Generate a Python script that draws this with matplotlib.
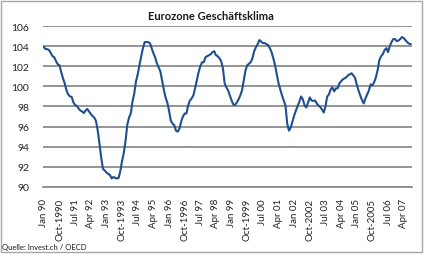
import numpy as np
import matplotlib
matplotlib.use('Agg')
import matplotlib.pyplot as plt
from matplotlib.patches import Rectangle

plt.rcParams['font.family'] = ['Lato', 'DejaVu Sans']

# monatliche Werte Jan 1990 - Aug 2007
klima = [
    103.9, 103.7, 103.7, 103.6, 103.3, 103.0, 102.9, 102.5, 102.2, 102.1, 101.4, 100.8,  # 1990
    100.3, 99.6, 99.2, 99.0, 98.95, 98.4, 98.15, 98.05, 97.8, 97.6, 97.5, 97.35,  # 1991
    97.6, 97.75, 97.5, 97.25, 97.05, 96.9, 96.55, 95.6, 94.3, 92.9, 91.8, 91.65,  # 1992
    91.45, 91.3, 91.2, 90.85, 91.0, 90.9, 90.85, 90.9, 91.6, 92.6, 93.4, 94.6,  # 1993
    96.2, 96.9, 97.3, 98.5, 99.3, 100.5, 101.2, 102.1, 103.0, 103.8, 104.4, 104.4,  # 1994
    104.4, 104.3, 103.8, 103.3, 102.9, 102.3, 101.9, 101.5, 100.6, 99.7, 98.9, 98.4,  # 1995
    97.6, 96.6, 96.3, 96.15, 95.6, 95.5, 95.8, 96.5, 97.0, 97.3, 97.3, 98.1,  # 1996
    98.6, 98.8, 99.1, 99.8, 100.6, 101.4, 102.0, 102.4, 102.4, 102.9, 103.0, 103.1,  # 1997
    103.2, 103.4, 103.5, 103.1, 103.0, 102.8, 102.5, 101.8, 100.3, 99.9, 99.6, 99.1,  # 1998
    98.6, 98.2, 98.15, 98.4, 98.7, 99.1, 99.6, 100.6, 101.6, 102.1, 102.25, 102.4,  # 1999
    102.8, 103.5, 103.9, 104.2, 104.6, 104.45, 104.3, 104.3, 104.2, 104.1, 103.8, 103.4,  # 2000
    102.8, 102.1, 101.2, 100.3, 99.7, 99.1, 98.6, 98.1, 96.3, 95.6, 95.9, 96.5,  # 2001
    97.1, 97.6, 98.05, 98.5, 99.0, 98.7, 98.1, 97.9, 98.4, 98.9, 98.6, 98.55,  # 2002
    98.6, 98.3, 98.1, 97.95, 97.7, 97.4, 98.0, 99.0, 99.2, 99.7, 99.9, 99.5,  # 2003
    99.8, 99.8, 100.3, 100.5, 100.7, 100.8, 100.9, 101.1, 101.2, 101.3, 101.1, 100.85,  # 2004
    100.2, 99.6, 99.1, 98.65, 98.3, 98.8, 99.2, 99.6, 100.2, 100.1, 100.4, 100.9,  # 2005
    101.6, 102.6, 103.0, 103.2, 103.6, 103.8, 103.4, 104.0, 104.4, 104.7, 104.7, 104.5,  # 2006
    104.55, 104.7, 104.9, 104.8, 104.6, 104.4, 104.25, 104.2,  # 2007
]

tick_labels = ['Jan 90', 'Oct-1990', 'Jul 91', 'Apr 92', 'Jan 93', 'Oct-1993',
               'Jul 94', 'Apr 95', 'Jan 96', 'Oct-1996', 'Jul 97', 'Apr 98',
               'Jan 99', 'Oct-1999', 'Jul 00', 'Apr 01', 'Jan 02', 'Oct-2002',
               'Jul 03', 'Apr 04', 'Jan 05', 'Oct-2005', 'Jul 06', 'Apr 07']

x = np.arange(len(klima))

fig = plt.figure(figsize=(4.25, 2.55), dpi=100)
ax = fig.add_axes([43 / 425, 67 / 255, 368.5 / 425, 161 / 255])

ax.plot(x, klima, color='#1f4f8f', lw=1.5, zorder=3)

ax.set_ylim(90, 106)
ax.set_yticks(np.arange(90, 107, 2))
ax.set_xlim(-0.5, len(klima) - 0.5)
ax.set_xticks(np.arange(0, len(klima), 9))
ax.set_xticklabels(tick_labels, rotation=90)
ax.tick_params(axis='both', length=0, labelsize=7, colors='#222222')
ax.tick_params(axis='y', labelsize=7.5, pad=10)
ax.tick_params(axis='x', pad=8)

ax.grid(axis='y', color='#8c8c8c', lw=1.3)
ax.set_axisbelow(True)
for s in ['top', 'right', 'left']:
    ax.spines[s].set_visible(False)
ax.spines['bottom'].set_color('#8c8c8c')
ax.spines['bottom'].set_linewidth(1.3)

fig.text(211 / 425, 1 - 17 / 255, 'Eurozone Geschäftsklima', ha='center', va='center',
         fontsize=8, fontweight='bold', color='#1a1a1a')
fig.text(2 / 425, 4 / 255, 'Quelle: Invest.ch / OECD', ha='left', va='bottom',
         fontsize=5.5, color='#1a1a1a')

fig.patches.append(Rectangle((1 / 425, 2 / 255), 421 / 425, 251 / 255, transform=fig.transFigure,
                             fill=False, edgecolor='#a6a6a6', lw=1))

fig.savefig('out.png', dpi=100)
